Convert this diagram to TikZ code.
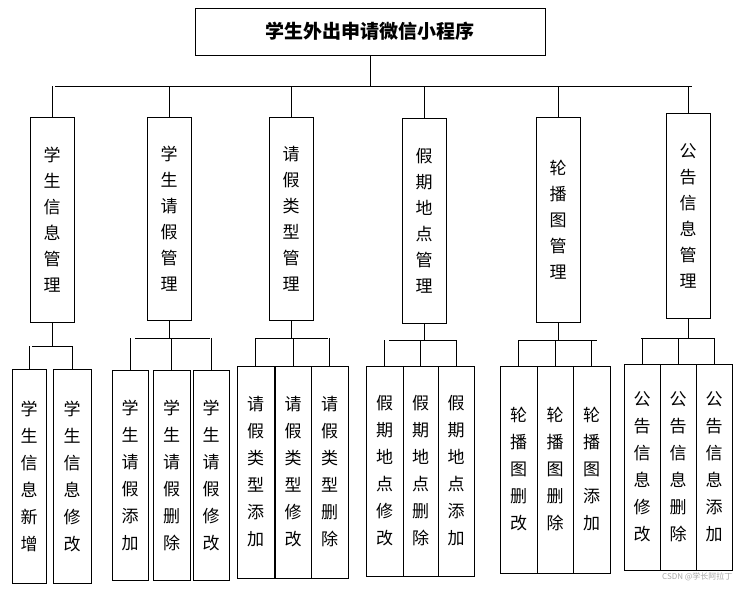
\documentclass[tikz,border=0pt]{standalone}
\usepackage{fontspec}
\newfontfamily\cjk{Noto Sans CJK SC}
\tikzset{
	box/.style = {draw, thick, inner sep=0pt, align=center, font=\cjk\fontsize{17}{26}\selectfont},
	wire/.style = {thick}
}
\begin{document}
\begin{tikzpicture}[x=1pt,y=-1pt]
			\useasboundingbox (0,0) rectangle (742,591);
			\node[box, minimum width=350, minimum height=47, font=\cjk\bfseries\fontsize{19}{22}\selectfont] (root) at (370,31.5) {学生外出申请微信小程序};
			\coordinate (busL) at (55,86);
			\coordinate (busR) at (692,86);
			\draw[wire] (root.south) -- (root.south |- busL);
			\draw[wire] (busL) -- (busR);
			% second level
			\foreach \n/\x/\yt/\yb/\t in {m1/52/117/322/{学\\生\\信\\息\\管\\理}, m2/169/117/320/{学\\生\\请\\假\\管\\理}, m3/291/117/320/{请\\假\\类\\型\\管\\理}, m4/424/118/323/{假\\期\\地\\点\\管\\理}, m5/558/117/322/{轮\\播\\图\\管\\理}, m6/688/113/318/{公\\告\\信\\息\\管\\理}} {
				\node[box, minimum width=44, minimum height=\yb-\yt, text depth=-14pt] (\n) at (\x,{(\yt+\yb)/2}) {\t};
				\draw[wire] (\n.north) -- (\n.north |- busL);
			}
			% third level
			\foreach \n/\yb/\l/\r in {m1/346/32/72, m2/338/135/210, m3/338/256/328, m4/340/389/456, m5/340/519/597, m6/338/641/714} {
				\draw[wire] (\n.south) -- (\n.south |- 0,\yb);
				\draw[wire] (\l,\yb) -- (\r,\yb);
			}
			\foreach \n/\p/\yb/\a/\b/\yt/\yl/\t in {
				a1/m1/346/12/46/369/583/{学\\生\\信\\息\\新\\增}, a2/m1/346/53/91/369/583/{学\\生\\信\\息\\修\\改},
				b1/m2/338/112/148/370/580/{学\\生\\请\\假\\添\\加}, b2/m2/338/153/190/370/580/{学\\生\\请\\假\\删\\除}, b3/m2/338/193/229/370/580/{学\\生\\请\\假\\修\\改},
				c1/m3/338/237/274/366/578/{请\\假\\类\\型\\添\\加}, c2/m3/338/275/311/366/578/{请\\假\\类\\型\\修\\改}, c3/m3/338/311/348/366/578/{请\\假\\类\\型\\删\\除},
				d1/m4/340/366/403/366/576/{假\\期\\地\\点\\修\\改}, d2/m4/340/403/438/366/576/{假\\期\\地\\点\\删\\除}, d3/m4/340/438/474/366/576/{假\\期\\地\\点\\添\\加},
				e1/m5/340/500/537/366/573/{轮\\播\\图\\删\\改}, e2/m5/340/537/573/366/573/{轮\\播\\图\\删\\除}, e3/m5/340/573/610/366/573/{轮\\播\\图\\添\\加},
				f1/m6/338/624/660/364/570/{公\\告\\信\\息\\修\\改}, f2/m6/338/660/696/364/570/{公\\告\\信\\息\\删\\除}, f3/m6/338/696/732/364/570/{公\\告\\信\\息\\添\\加}} {
				\node[box, minimum width=\b-\a, minimum height=\yl-\yt, font=\cjk\fontsize{17}{27}\selectfont] (\n) at ({(\a+\b)/2},{(\yt+\yl)/2}) {\t};
				\draw[wire] (\n.north) -- (\n.north |- 0,\yb);
			}
			\node[text=gray!70, font=\cjk\fontsize{8}{9}\selectfont, anchor=east] (mark) at (736,577) {CSDN @学长阿拉丁};
\end{tikzpicture}
\end{document}
